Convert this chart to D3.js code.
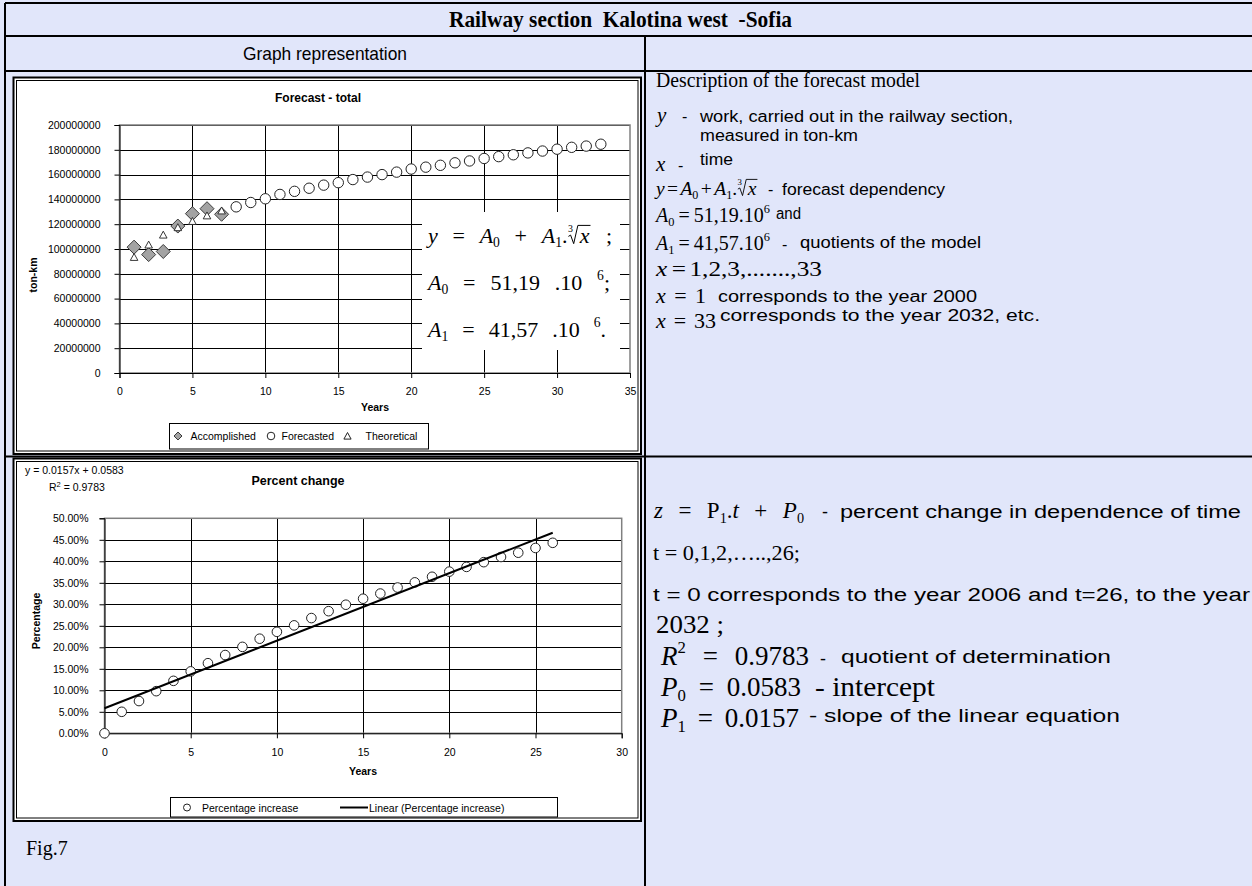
<!DOCTYPE html>
<html>
<head>
<meta charset="utf-8">
<script src="https://cdn.jsdelivr.net/npm/d3@7"></script>
<style>
  html, body { margin: 0; padding: 0; background: #e1e6fa; }
  svg { display: block; }
</style>
</head>
<body>
<svg id="chart" width="1252" height="886"></svg>
<script>
// ---------- data: forecast of transport work (ton-km) ----------
const accYears = [1, 2, 3, 4, 5, 6, 7];
const accomplished = [101.5e6, 95.5e6, 98e6, 118.5e6, 128.5e6, 132.5e6, 128e6];

const theoYears = [1, 2, 3, 4, 5, 6, 7];
const theoretical = [93e6, 103e6, 111e6, 117e6, 122e6, 126.5e6, 130.5e6];

const foreYears = [8, 9, 10, 11, 12, 13, 14, 15, 16, 17, 18, 19, 20, 21, 22, 23, 24, 25, 26, 27, 28, 29, 30, 31, 32, 33];
const forecasted = [134e6, 137.5e6, 140.5e6, 144e6, 146.5e6, 149e6, 151.5e6, 153.5e6, 156e6, 158e6, 160e6, 162e6,
                    164.5e6, 166e6, 167.5e6, 169.5e6, 171e6, 173e6, 174.5e6, 176e6, 177.5e6, 179e6, 180.5e6, 182e6, 183e6, 184.5e6];

const totalYTicks = [0, 20000000, 40000000, 60000000, 80000000, 100000000, 120000000, 140000000, 160000000, 180000000, 200000000];
const totalXTicks = [0, 5, 10, 15, 20, 25, 30, 35];

// ---------- data: percent change ----------
const pctYears = [0, 1, 2, 3, 4, 5, 6, 7, 8, 9, 10, 11, 12, 13, 14, 15, 16, 17, 18, 19, 20, 21, 22, 23, 24, 25, 26];
const pctIncrease = [0, 0.050, 0.075, 0.098, 0.122, 0.144, 0.163, 0.182, 0.201, 0.220, 0.236, 0.251, 0.268, 0.284,
                     0.299, 0.313, 0.325, 0.339, 0.351, 0.364, 0.376, 0.387, 0.398, 0.410, 0.420, 0.431, 0.443];
const trendSlope = 0.0157;
const trendIntercept = 0.0583;
const trendR2 = 0.9783;
const trendSpan = [0, 26];

const pctYTicks = [0, 0.05, 0.10, 0.15, 0.20, 0.25, 0.30, 0.35, 0.40, 0.45, 0.50];
const pctXTicks = [0, 5, 10, 15, 20, 25, 30];

// ---------- drawing ----------
const SERIF = "'Liberation Serif','Times New Roman',serif";
const SANS = "'Liberation Sans',Arial,Helvetica,sans-serif";
const BG = "#e1e6fa";

const svg = d3.select("#chart");
svg.append("rect").attr("width", 1252).attr("height", 886).attr("fill", BG);

// token helpers for mixed math / text lines
const I = (t, o) => Object.assign({ t, f: "i" }, o);
const R = (t, o) => Object.assign({ t, f: "r" }, o);
const sub = (t, o) => Object.assign({ t, f: "r", k: "sub" }, o);
const sup = (t, o) => Object.assign({ t, f: "r", k: "sup" }, o);
const rad = (t, o) => Object.assign({ t, k: "rad" }, o);

// lays out a line of math tokens; fits it to opt.w by spreading gaps or scaling
function rich(parent, x, y, parts, opt) {
  const s0 = opt.s;
  const g = parent.append("g");
  const items = [];
  parts.forEach(p => {
    if (p.k === "rad") {
      const idx = g.append("text").attr("y", y - 0.5 * s0).attr("font-family", SERIF)
        .attr("font-size", 0.45 * s0).text("3");
      const body = g.append("text").attr("y", y).attr("font-family", SERIF)
        .attr("font-style", "italic").attr("font-size", s0).text(p.t);
      const path = g.append("path").attr("fill", "none").attr("stroke", "#000")
        .attr("stroke-width", Math.max(0.9, s0 / 22));
      const bw = body.node().getComputedTextLength();
      items.push({ p, idx, body, path, bw, s: s0, w: 0.58 * s0 + bw + 0.05 * s0 });
      return;
    }
    const small = p.k === "sub" || p.k === "sup";
    const s = small ? s0 * 0.62 : s0;
    const dy = p.k === "sub" ? 0.2 * s0 : p.k === "sup" ? -0.45 * s0 : 0;
    const el = g.append("text").attr("y", y + dy)
      .attr("font-family", SERIF)
      .attr("font-style", p.f === "i" ? "italic" : null)
      .attr("font-size", s)
      .text(p.t);
    items.push({ p, el, w: el.node().getComputedTextLength() });
  });
  const nat = d3.sum(items, d => d.w + (d.p.g || 0));
  const nsp = items.filter(d => d.p.sp).length;
  let mode = opt.mode || "auto";
  if (mode === "auto") mode = (opt.w && nat < opt.w && nsp) ? "space" : "scale";
  const extra = (opt.w && mode === "space") ? (opt.w - nat) / nsp : 0;
  let cx = x;
  items.forEach(it => {
    cx += (it.p.g || 0) + (it.p.sp ? extra : 0);
    if (it.p.k === "rad") {
      const s = it.s;
      it.idx.attr("x", cx + 0.02 * s);
      it.body.attr("x", cx + 0.55 * s);
      it.path.attr("d",
        `M${cx + 0.04 * s},${y - 0.3 * s}L${cx + 0.14 * s},${y - 0.36 * s}` +
        `L${cx + 0.28 * s},${y + 0.03 * s}L${cx + 0.47 * s},${y - 0.8 * s}H${cx + 0.6 * s + it.bw}`);
    } else {
      it.el.attr("x", cx);
    }
    cx += it.w;
  });
  if (opt.w && mode === "scale") {
    const sx = opt.w / nat;
    g.attr("transform", `translate(${x},0) scale(${sx},1) translate(${-x},0)`);
  }
  return g;
}

function fitText(parent, x, y, txt, o) {
  const t = parent.append("text").attr("x", x).attr("y", y)
    .attr("font-family", o.fam || SANS).attr("font-size", o.s)
    .attr("font-weight", o.b ? "bold" : null)
    .attr("font-style", o.i ? "italic" : null)
    .style("white-space", "pre")
    .text(txt);
  if (o.w) t.attr("textLength", o.w).attr("lengthAdjust", "spacingAndGlyphs");
  return t;
}

// ---------- table frame ----------
const tbl = svg.append("g").attr("stroke", "#000").attr("stroke-width", 2);
[3, 36, 71, 456.5].forEach(y =>
  tbl.append("line").attr("x1", 5).attr("x2", 1252).attr("y1", y).attr("y2", y));
tbl.append("line").attr("x1", 5).attr("x2", 5).attr("y1", 3).attr("y2", 886);
tbl.append("line").attr("x1", 645).attr("x2", 645).attr("y1", 36).attr("y2", 886);

fitText(svg, 449, 27, "Railway section  Kalotina west  -Sofia", { fam: SERIF, s: 24, b: true, w: 343 });
fitText(svg, 243, 60, "Graph representation", { s: 19, w: 164 });
fitText(svg, 26, 855, "Fig.7", { fam: SERIF, s: 20 });

// ---------- chart frames ----------
function frame(x0, y0, x1, y1) {
  svg.append("rect").attr("x", x0).attr("y", y0).attr("width", x1 - x0).attr("height", y1 - y0)
    .attr("fill", "#fff").attr("stroke", "#000").attr("stroke-width", 2);
  svg.append("rect").attr("x", x0 + 3).attr("y", y0 + 3).attr("width", x1 - x0 - 6).attr("height", y1 - y0 - 6)
    .attr("fill", "none").attr("stroke", "#000").attr("stroke-width", 1);
}
frame(13.5, 77.5, 641, 454);
frame(13.5, 458.5, 641, 821);

// ---------- top chart: Forecast - total ----------
const xT = d3.scaleLinear().domain([0, 35]).range([119.5, 630]);
const yT = d3.scaleLinear().domain([0, 200000000]).range([373, 125]);
const topChart = svg.append("g");

const gridT = topChart.append("g").attr("stroke", "#000").attr("stroke-width", 1);
totalYTicks.forEach(v => gridT.append("line").attr("x1", xT(0)).attr("x2", xT(35))
  .attr("y1", Math.round(yT(v)) + 0.5).attr("y2", Math.round(yT(v)) + 0.5));
totalXTicks.slice(1, -1).forEach(v => gridT.append("line").attr("y1", yT(0)).attr("y2", yT(200000000))
  .attr("x1", Math.round(xT(v)) + 0.5).attr("x2", Math.round(xT(v)) + 0.5));
topChart.append("rect").attr("x", xT(0)).attr("y", yT(200000000)).attr("width", xT(35) - xT(0))
  .attr("height", yT(0) - yT(200000000)).attr("fill", "none").attr("stroke", "#808080").attr("stroke-width", 1.5);

const axY = topChart.append("g").attr("transform", `translate(${xT(0)},0)`)
  .call(d3.axisLeft(yT).tickValues(totalYTicks).tickSize(5).tickPadding(14).tickFormat(d3.format("d")));
const axX = topChart.append("g").attr("transform", `translate(0,${yT(0)})`)
  .call(d3.axisBottom(xT).tickValues(totalXTicks).tickSize(5).tickPadding(10).tickFormat(d3.format("d")));
[axY, axX].forEach(a => {
  a.select(".domain").attr("stroke", "#000");
  a.selectAll("text").attr("font-family", SANS).attr("font-size", 10.5).attr("fill", "#000");
  a.selectAll("line").attr("stroke", "#000");
});

topChart.append("text").attr("x", 318).attr("y", 102).attr("text-anchor", "middle")
  .attr("font-family", SANS).attr("font-weight", "bold").attr("font-size", 12).text("Forecast - total");
topChart.append("text").attr("transform", `translate(37,275) rotate(-90)`).attr("text-anchor", "middle")
  .attr("font-family", SANS).attr("font-weight", "bold").attr("font-size", 10.5).text("ton-km");
topChart.append("text").attr("x", 375).attr("y", 410.5).attr("text-anchor", "middle")
  .attr("font-family", SANS).attr("font-weight", "bold").attr("font-size", 10.5).text("Years");

// markers
const diamond = (cx, cy, r) => `M${cx},${cy - r}L${cx + r},${cy}L${cx},${cy + r}L${cx - r},${cy}Z`;
const triangle = (cx, cy, r) => `M${cx},${cy - r}L${cx + r * 0.9},${cy + r * 0.65}L${cx - r * 0.9},${cy + r * 0.65}Z`;

topChart.append("g").selectAll("path").data(accYears).join("path")
  .attr("d", (d, i) => diamond(xT(d), yT(accomplished[i]), 7))
  .attr("fill", "#a3a3a3").attr("stroke", "#3a3a3a").attr("stroke-width", 1);
topChart.append("g").selectAll("path").data(theoYears).join("path")
  .attr("d", (d, i) => triangle(xT(d), yT(theoretical[i]), 4.2))
  .attr("fill", "#fff").attr("stroke", "#222").attr("stroke-width", 0.9);
topChart.append("g").selectAll("circle").data(foreYears).join("circle")
  .attr("cx", d => xT(d)).attr("cy", (d, i) => yT(forecasted[i])).attr("r", 5.2)
  .attr("fill", "#fff").attr("stroke", "#222").attr("stroke-width", 1);

// equation panel inside the plot
topChart.append("rect").attr("x", 422).attr("y", 212).attr("width", 198).attr("height", 138).attr("fill", "#fff");
const eqG = topChart.append("g").attr("fill", "#000");
rich(eqG, 428, 243, [I("y"), R("=", { sp: 1 }), I("A", { sp: 1 }), sub("0"), R("+", { sp: 1 }), I("A", { sp: 1 }),
  sub("1"), R("."), rad("x"), R(";", { sp: 1 })], { s: 22, w: 184, mode: "space" });
rich(eqG, 428, 290, [I("A"), sub("0"), R("=", { sp: 1 }), R("51,19", { sp: 1 }), R(".10", { sp: 1 }),
  sup("6", { sp: 1 }), R(";")], { s: 22, w: 182, mode: "space" });
rich(eqG, 428, 337, [I("A"), sub("1"), R("=", { sp: 1 }), R("41,57", { sp: 1 }), R(".10", { sp: 1 }),
  sup("6", { sp: 1 }), R(".")], { s: 22, w: 178, mode: "space" });

// legend
const lgT = topChart.append("g");
lgT.append("rect").attr("x", 169.5).attr("y", 423.5).attr("width", 259).attr("height", 25.5)
  .attr("fill", "#fff").attr("stroke", "#000").attr("stroke-width", 1);
lgT.append("path").attr("d", diamond(178, 436, 4)).attr("fill", "#a3a3a3").attr("stroke", "#3a3a3a");
lgT.append("circle").attr("cx", 271).attr("cy", 436).attr("r", 3.8).attr("fill", "#fff").attr("stroke", "#222");
lgT.append("path").attr("d", triangle(347.5, 436.5, 4)).attr("fill", "#fff").attr("stroke", "#222");
[["Accomplished", 190.5], ["Forecasted", 281.5], ["Theoretical", 365.5]].forEach(([t, x]) =>
  lgT.append("text").attr("x", x).attr("y", 440).attr("font-family", SANS).attr("font-size", 10.5).text(t));

// ---------- bottom chart: Percent change ----------
const xP = d3.scaleLinear().domain([0, 30]).range([104.5, 621.7]);
const yP = d3.scaleLinear().domain([0, 0.5]).range([733.3, 518.3]);
const botChart = svg.append("g");

const gridP = botChart.append("g").attr("stroke", "#000").attr("stroke-width", 1);
pctYTicks.forEach(v => gridP.append("line").attr("x1", xP(0)).attr("x2", xP(30))
  .attr("y1", Math.round(yP(v)) + 0.5).attr("y2", Math.round(yP(v)) + 0.5));
pctXTicks.slice(1, -1).forEach(v => gridP.append("line").attr("y1", yP(0)).attr("y2", yP(0.5))
  .attr("x1", Math.round(xP(v)) + 0.5).attr("x2", Math.round(xP(v)) + 0.5));
botChart.append("rect").attr("x", xP(0)).attr("y", yP(0.5)).attr("width", xP(30) - xP(0))
  .attr("height", yP(0) - yP(0.5)).attr("fill", "none").attr("stroke", "#808080").attr("stroke-width", 1.5);

const axPY = botChart.append("g").attr("transform", `translate(${xP(0)},0)`)
  .call(d3.axisLeft(yP).tickValues(pctYTicks).tickSize(5).tickPadding(11).tickFormat(d3.format(".2%")));
const axPX = botChart.append("g").attr("transform", `translate(0,${yP(0)})`)
  .call(d3.axisBottom(xP).tickValues(pctXTicks).tickSize(5).tickPadding(10).tickFormat(d3.format("d")));
[axPY, axPX].forEach(a => {
  a.select(".domain").attr("stroke", "#000");
  a.selectAll("text").attr("font-family", SANS).attr("font-size", 10.5).attr("fill", "#000");
  a.selectAll("line").attr("stroke", "#000");
});

botChart.append("text").attr("x", 298).attr("y", 484.5).attr("text-anchor", "middle")
  .attr("font-family", SANS).attr("font-weight", "bold").attr("font-size", 12.5).text("Percent change");
botChart.append("text").attr("transform", `translate(40,621) rotate(-90)`).attr("text-anchor", "middle")
  .attr("font-family", SANS).attr("font-weight", "bold").attr("font-size", 10.5).text("Percentage");
botChart.append("text").attr("x", 363).attr("y", 775).attr("text-anchor", "middle")
  .attr("font-family", SANS).attr("font-weight", "bold").attr("font-size", 10.5).text("Years");

// trend-line label
const fmt4 = d3.format(".4f");
botChart.append("text").attr("x", 25).attr("y", 474).attr("font-family", SANS).attr("font-size", 10.5)
  .text(`y = ${fmt4(trendSlope)}x + ${fmt4(trendIntercept)}`);
const r2 = botChart.append("text").attr("x", 49).attr("y", 491).attr("font-family", SANS).attr("font-size", 10.5);
r2.append("tspan").text("R");
r2.append("tspan").attr("dy", -4).attr("font-size", 7.5).text("2");
r2.append("tspan").attr("dy", 4).text(` = ${fmt4(trendR2)}`);

// points and linear trend
botChart.append("g").selectAll("circle").data(pctYears).join("circle")
  .attr("cx", d => xP(d)).attr("cy", (d, i) => yP(pctIncrease[i])).attr("r", 4.8)
  .attr("fill", "#fff").attr("stroke", "#222").attr("stroke-width", 1);
botChart.append("path")
  .attr("d", d3.line().x(d => xP(d)).y(d => yP(trendSlope * d + trendIntercept))(trendSpan))
  .attr("stroke", "#000").attr("stroke-width", 2).attr("fill", "none");

// legend
const lgP = botChart.append("g");
lgP.append("rect").attr("x", 170.5).attr("y", 797.5).attr("width", 387).attr("height", 19.5)
  .attr("fill", "#fff").attr("stroke", "#000").attr("stroke-width", 1);
lgP.append("circle").attr("cx", 187).attr("cy", 807.5).attr("r", 3.5).attr("fill", "#fff").attr("stroke", "#222");
lgP.append("line").attr("x1", 340).attr("x2", 368).attr("y1", 807.5).attr("y2", 807.5).attr("stroke", "#000").attr("stroke-width", 2);
[["Percentage increase", 202], ["Linear (Percentage increase)", 369]].forEach(([t, x]) =>
  lgP.append("text").attr("x", x).attr("y", 811.5).attr("font-family", SANS).attr("font-size", 10.5).text(t));

// ---------- right column: model description ----------
const txt = svg.append("g").attr("fill", "#000");
fitText(txt, 656, 87, "Description of the forecast model", { fam: SERIF, s: 20, w: 264 });

rich(txt, 657, 122, [I("y")], { s: 21 });
fitText(txt, 682, 122, "-", { s: 16 });
fitText(txt, 700, 122, "work, carried out in the railway section,", { s: 16, w: 313 });
fitText(txt, 700, 141, "measured in ton-km", { s: 16, w: 158 });

rich(txt, 656, 171, [I("x")], { s: 21 });
fitText(txt, 678, 171, "-", { s: 16 });
fitText(txt, 700, 165, "time", { s: 16, w: 33 });

rich(txt, 656, 195, [I("y"), R("=", { sp: 1 }), I("A", { sp: 1 }), sub("0"), R("+", { sp: 1 }), I("A", { sp: 1 }),
  sub("1"), R("."), rad("x")], { s: 19.5, w: 102 });
fitText(txt, 768, 195, "-", { s: 16 });
fitText(txt, 782, 195, "forecast dependency", { s: 16, w: 163 });

rich(txt, 656, 222, [I("A"), sub("0"), R("=", { sp: 1 }), R("51,19.10", { sp: 1 }), sup("6")], { s: 20, w: 114 });
fitText(txt, 776, 219, "and", { s: 16, w: 25 });

rich(txt, 656, 250, [I("A"), sub("1"), R("=", { sp: 1 }), R("41,57.10", { sp: 1 }), sup("6")], { s: 20, w: 114 });
fitText(txt, 782, 250, "-", { s: 16 });
fitText(txt, 800, 248, "quotients of the model", { s: 16, w: 181 });

rich(txt, 656, 276, [I("x"), R("=", { g: 4 }), R("1,2,3,.......,33", { g: 3 })], { s: 22, w: 166, mode: "scale" });

rich(txt, 656, 303, [I("x"), R("=", { sp: 1 }), R("1", { sp: 1 })], { s: 22, w: 50 });
fitText(txt, 718, 302, "corresponds to the year 2000", { s: 16, w: 259 });

rich(txt, 656, 328, [I("x"), R("=", { sp: 1 }), R("33", { sp: 1 })], { s: 22, w: 60 });
fitText(txt, 720, 321, "corresponds to the year 2032, etc.", { s: 16, w: 320 });

// ---------- right column: percent change description ----------
rich(txt, 654, 518, [I("z"), R("=", { sp: 1 }), R("P", { sp: 1 }), sub("1"), R("."), I("t"), R("+", { sp: 1 }),
  I("P", { sp: 1 }), sub("0")], { s: 23, w: 150 });
fitText(txt, 822, 518, "-", { s: 18 });
fitText(txt, 840, 518, "percent change in dependence of time", { s: 18, w: 401 });

fitText(txt, 653, 560, "t = 0,1,2,\u2026..,26;", { fam: SERIF, s: 22, w: 147 });
fitText(txt, 653, 601, "t = 0 corresponds to the year 2006 and t=26, to the year", { s: 18, w: 597 });
fitText(txt, 656, 633, "2032 ;", { fam: SERIF, s: 25, w: 68 });

rich(txt, 661, 665, [I("R"), sup("2"), R("=", { sp: 1 }), R("0.9783", { sp: 1 })], { s: 27, w: 148 });
fitText(txt, 820, 665, "-", { s: 18 });
fitText(txt, 841, 663, "quotient of determination", { s: 18, w: 270 });

rich(txt, 661, 696, [I("P"), sub("0"), R("=", { sp: 1 }), R("0.0583", { sp: 1 })], { s: 27, w: 140 });
fitText(txt, 815, 696, "- intercept", { fam: SERIF, s: 27, w: 120 });

rich(txt, 661, 727, [I("P"), sub("1"), R("=", { sp: 1 }), R("0.0157", { sp: 1 })], { s: 27, w: 138 });
fitText(txt, 809, 722, "- slope of the linear equation", { s: 18, w: 311 });
</script>
</body>
</html>
